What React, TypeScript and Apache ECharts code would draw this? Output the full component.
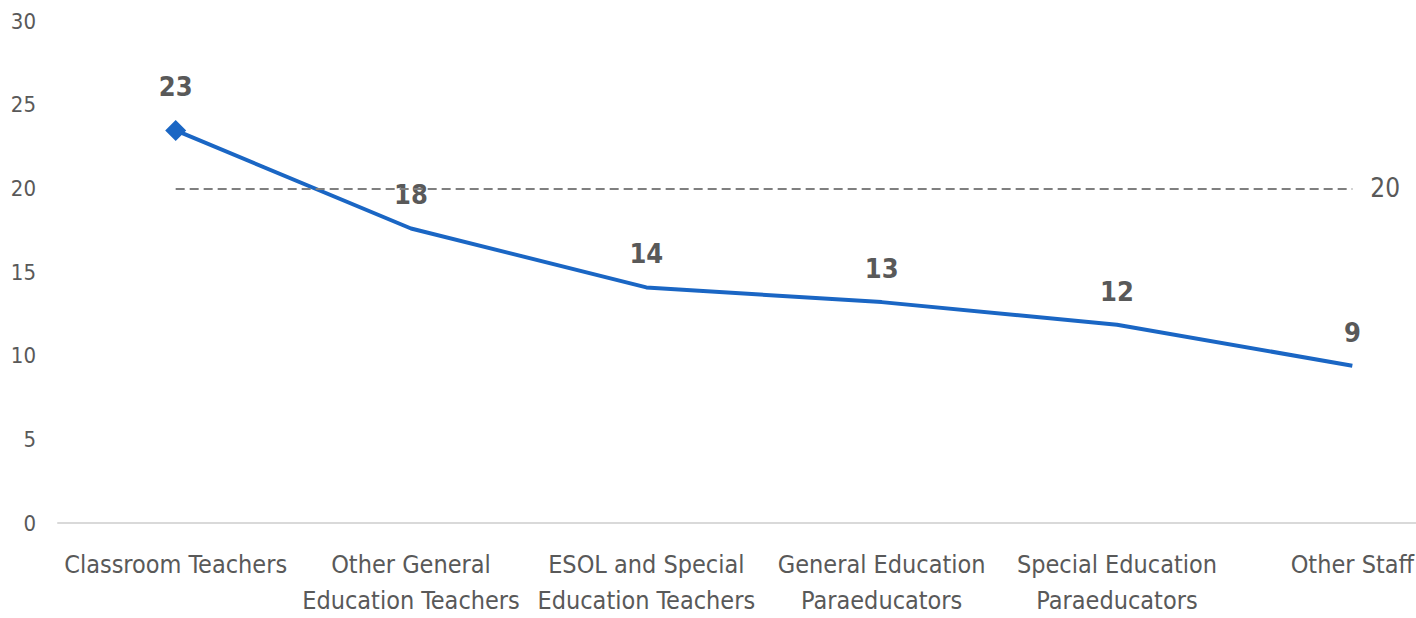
import React, { useEffect, useRef } from "react";
import * as echarts from "echarts";

const categories = [
  "Classroom Teachers",
  "Other General\nEducation Teachers",
  "ESOL and Special\nEducation Teachers",
  "General Education\nParaeducators",
  "Special Education\nParaeducators",
  "Other Staff",
];
const values = [23.46, 17.6, 14.08, 13.2, 11.85, 9.4];
const referenceValue = 20;
const yTicks = { min: 0, max: 30, interval: 5 };

const FONT = '"DejaVu Sans Condensed", "DejaVu Sans", sans-serif';
const TEXT = "#595959";
const LINE = "#1a66c4";

export default function App() {
  const ref = useRef<HTMLDivElement>(null);
  useEffect(() => {
    document.body.style.margin = "0";
    const chart = echarts.init(ref.current!, null, { renderer: "svg" });
    chart.setOption({
      animation: false,
      textStyle: { fontFamily: FONT },
      grid: { left: 58, right: 0, top: 21, bottom: 87, containLabel: false },
      xAxis: {
        type: "category",
        data: categories,
        boundaryGap: true,
        axisLine: { show: true, lineStyle: { color: "#d9d9d9", width: 2 } },
        axisTick: { show: false },
        axisLabel: {
          interval: 0,
          color: TEXT,
          fontSize: 25,
          fontFamily: FONT,
          lineHeight: 36,
          margin: 23,
        },
        splitLine: { show: false },
      },
      yAxis: {
        type: "value",
        min: yTicks.min,
        max: yTicks.max,
        interval: yTicks.interval,
        axisLine: { show: false },
        axisTick: { show: false },
        splitLine: { show: false },
        axisLabel: { color: TEXT, fontSize: 22, fontFamily: FONT, margin: 22 },
      },
      series: [
        {
          type: "line",
          data: values.map((v, i) =>
            i === 0
              ? { value: v, symbol: "diamond", symbolSize: 21 }
              : { value: v, symbol: "circle", symbolSize: 0 }
          ),
          showSymbol: true,
          lineStyle: { color: LINE, width: 4 },
          itemStyle: { color: LINE },
          label: {
            show: true,
            position: "top",
            distance: 20,
            color: TEXT,
            fontSize: 27,
            fontWeight: "bold",
            fontFamily: FONT,
            formatter: (p: any) => String(Math.round(p.value)),
          },
          markLine: {
            silent: true,
            symbol: ["none", "none"],
            lineStyle: { color: "#7f7f7f", width: 2, type: [9, 5] },
            label: {
              show: true,
              position: "end",
              distance: 18,
              color: TEXT,
              fontSize: 26,
              fontFamily: FONT,
              formatter: String(referenceValue),
            },
            data: [[{ coord: [0, referenceValue] }, { coord: [categories.length - 1, referenceValue] }]],
          },
          z: 3,
        },
      ],
    });
    return () => chart.dispose();
  }, []);
  return (
    <div style={{ width: 1416, height: 618, overflow: "hidden", position: "relative" }}>
      <div ref={ref} style={{ width: 1470, height: 618 }} />
    </div>
  );
}
